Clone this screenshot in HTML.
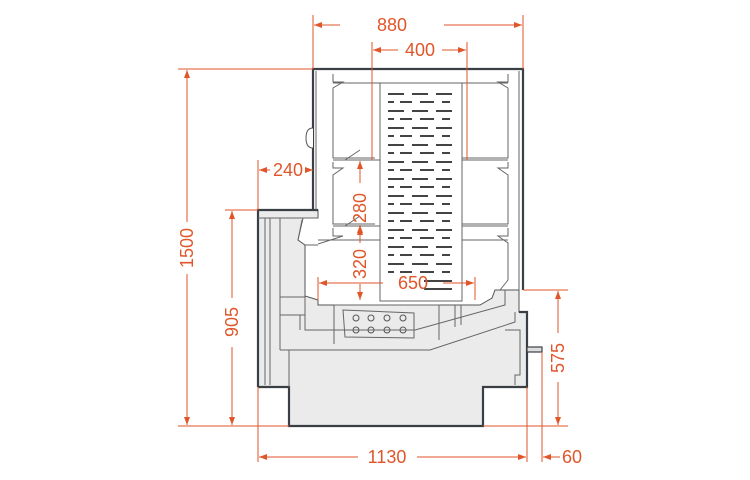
<!DOCTYPE html>
<html><head><meta charset="utf-8"><style>
html,body{margin:0;padding:0;background:#fff;}
svg{display:block;}
text{font-family:"Liberation Sans",sans-serif;font-size:18px;fill:#e0562a;}
</style></head><body>
<svg width="750" height="480" viewBox="0 0 750 480" xmlns="http://www.w3.org/2000/svg">
<defs>
<marker id="a" markerWidth="8" markerHeight="6" refX="8" refY="3" orient="auto-start-reverse" markerUnits="userSpaceOnUse"><path d="M0,0 L8,3 L0,6z" fill="#e0562a"/></marker>
</defs>
<g stroke="#555" stroke-width="1" fill="#ebebeb">
<path d="M258,210 L318,210 L318,218 L303,218 L298,240 L305,245 L305,296 L318,300 L318,305 L480,305 L492,298 L495,290 L519,290 L519,312 L527,312 L527,387 L483,387 L483,426 L289,426 L289,387 L258,387 Z"/>
</g>
<path d="M258,387 L289,387 L289,426 L483,426 L483,387 L527,387 L527,312 L519,312" fill="none" stroke="#3a3f45" stroke-width="2.2"/>
<path d="M258,387 L258,210 L318,210" fill="none" stroke="#3a3f45" stroke-width="2.2"/>
<g stroke="#666" stroke-width="1" fill="none">
<line x1="258" y1="218" x2="318" y2="218"/>
<line x1="265" y1="218" x2="265" y2="385"/>
<line x1="270" y1="218" x2="270" y2="385"/>
<line x1="280" y1="218" x2="280" y2="350"/>
<line x1="289" y1="350" x2="289" y2="387"/>
<path d="M280,350 L430,350 L515,322 L515,312"/>
<path d="M280,297 L305,297 L305,330 L415,330 L505,305 L505,290"/>
<line x1="280" y1="315" x2="305" y2="315"/>
<line x1="300" y1="315" x2="300" y2="330"/>
<path d="M334,305 L334,344 M334,305 L439,305 L439,340"/>
<path d="M343,310 L414,313 L414,338 L345,337 Z"/>
<path d="M505,330 L520,330 L520,375 L515,375 L515,385"/>
<line x1="455" y1="305" x2="455" y2="327"/>
<line x1="461" y1="305" x2="461" y2="325"/>
<path d="M298,240 L302,220"/>
<path d="M305,245 L318,245"/>
</g>
<g fill="none" stroke="#555" stroke-width="1">
<circle cx="356" cy="318" r="3"/><circle cx="371" cy="318" r="3"/><circle cx="387" cy="318" r="3"/><circle cx="403" cy="318" r="3"/>
<circle cx="356" cy="330" r="3"/><circle cx="371" cy="330" r="3"/><circle cx="387" cy="330" r="3"/><circle cx="403" cy="330" r="3"/>
</g>
<rect x="527" y="347" width="15" height="5" fill="#ddd" stroke="#3a3f45" stroke-width="1.2"/>
<path d="M313,210 L313,69 L523,69 L523,290" fill="none" stroke="#3a3f45" stroke-width="2.2"/>
<line x1="519" y1="71" x2="519" y2="290" stroke="#666"/>
<line x1="316" y1="71" x2="316" y2="210" stroke="#666"/>
<path d="M313,128 Q306,128 306,138 Q306,148 313,148" fill="#fff" stroke="#555"/>
<g stroke="#666" fill="none" stroke-width="1">
<path d="M333,74 L333,82 L343,82 L333,88 L333,158 L375,158"/>
<path d="M508,74 L508,82 L498,82 L508,88 L508,158 L462,158"/>
<line x1="333" y1="83" x2="508" y2="83"/>
<path d="M333,162 L333,168 L343,168 L333,175 L333,224 L375,224"/>
<path d="M508,162 L508,168 L498,168 L508,175 L508,224 L462,224"/>
<line x1="333" y1="160" x2="380" y2="160"/><line x1="462" y1="160" x2="508" y2="160"/>
<line x1="333" y1="226" x2="380" y2="226"/><line x1="462" y1="226" x2="508" y2="226"/>
<path d="M333,228 L333,236 L343,236 L318,244"/>
<path d="M508,228 L508,236 L498,236 L508,243 L508,280 L500,290"/>
<path d="M345,160 L360,150 M345,226 L360,216"/>
<line x1="318" y1="240" x2="380" y2="240"/>
<line x1="462" y1="240" x2="508" y2="240"/>
</g>
<rect x="380" y="83" width="82" height="218" fill="#fff" stroke="#666"/>
<g stroke="#444" stroke-width="2" fill="none">
<path d="
M388,94 h16 M412,94 h16 M436,94 h16
M388,102 h6 M400,102 h12 M420,102 h14 M442,102 h8
M388,111 h16 M412,111 h16 M436,111 h16
M388,119 h6 M400,119 h12 M420,119 h14 M442,119 h8
M388,128 h16 M412,128 h16 M436,128 h16
M388,136 h6 M400,136 h12 M420,136 h14 M442,136 h8
M388,145 h16 M412,145 h16 M436,145 h16
M388,153 h6 M400,153 h12 M420,153 h14 M442,153 h8
M388,162 h16 M412,162 h16 M436,162 h16
M388,170 h6 M400,170 h12 M420,170 h14 M442,170 h8
M388,179 h16 M412,179 h16 M436,179 h16
M388,187 h6 M400,187 h12 M420,187 h14 M442,187 h8
M388,196 h16 M412,196 h16 M436,196 h16
M388,204 h6 M400,204 h12 M420,204 h14 M442,204 h8
M388,213 h16 M412,213 h16 M436,213 h16
M388,221 h6 M400,221 h12 M420,221 h14 M442,221 h8
M388,230 h16 M412,230 h16 M436,230 h16
M388,238 h6 M400,238 h12 M420,238 h14 M442,238 h8
M388,247 h16 M412,247 h16 M436,247 h16
M388,255 h6 M400,255 h12 M420,255 h14 M442,255 h8
M388,264 h16 M412,264 h16 M436,264 h16
M388,272 h6 M400,272 h12 M420,272 h14 M442,272 h8
M424,281 h28 M424,289 h28"/>
</g>
<g stroke="#e0562a" stroke-width="1" fill="none">
<line x1="313" y1="15" x2="313" y2="69"/><line x1="523" y1="15" x2="523" y2="69"/>
<line x1="372" y1="42" x2="372" y2="160"/><line x1="467" y1="42" x2="467" y2="160"/>
<line x1="314" y1="25" x2="340" y2="25" marker-start="url(#a)"/><line x1="444" y1="25" x2="522" y2="25" marker-end="url(#a)"/>
<line x1="373" y1="50" x2="398" y2="50" marker-start="url(#a)"/><line x1="442" y1="50" x2="466" y2="50" marker-end="url(#a)"/>
<line x1="178" y1="69" x2="313" y2="69"/>
<line x1="178" y1="426" x2="289" y2="426"/>
<line x1="187" y1="70" x2="187" y2="222" marker-start="url(#a)"/><line x1="187" y1="274" x2="187" y2="425" marker-end="url(#a)"/>
<line x1="225" y1="210" x2="258" y2="210"/>
<line x1="232" y1="211" x2="232" y2="298" marker-start="url(#a)"/><line x1="232" y1="347" x2="232" y2="425" marker-end="url(#a)"/>
<line x1="258" y1="160" x2="258" y2="210"/>
<line x1="259" y1="170" x2="270" y2="170" marker-start="url(#a)"/><line x1="305" y1="170" x2="313" y2="170" marker-end="url(#a)"/>
<line x1="360" y1="161" x2="360" y2="183" marker-start="url(#a)"/><line x1="360" y1="232" x2="360" y2="225" marker-end="url(#a)"/>
<line x1="360" y1="227" x2="360" y2="243" marker-start="url(#a)"/><line x1="360" y1="284" x2="360" y2="300" marker-end="url(#a)"/>
<line x1="318" y1="277" x2="318" y2="300"/><line x1="475" y1="277" x2="475" y2="300"/>
<line x1="319" y1="283" x2="383" y2="283" marker-start="url(#a)"/><line x1="443" y1="283" x2="474" y2="283" marker-end="url(#a)"/>
<line x1="523" y1="290" x2="568" y2="290"/>
<line x1="483" y1="426" x2="568" y2="426"/>
<line x1="558" y1="291" x2="558" y2="333" marker-start="url(#a)"/><line x1="558" y1="382" x2="558" y2="425" marker-end="url(#a)"/>
<line x1="258" y1="387" x2="258" y2="462"/>
<line x1="527" y1="387" x2="527" y2="462"/>
<line x1="542" y1="352" x2="542" y2="462"/>
<line x1="259" y1="457" x2="358" y2="457" marker-start="url(#a)"/><line x1="417" y1="457" x2="526" y2="457" marker-end="url(#a)"/>
<line x1="553" y1="457" x2="543" y2="457" marker-end="url(#a)"/><line x1="553" y1="457" x2="560" y2="457"/>
</g>
<g>
<text x="392" y="31" text-anchor="middle">880</text>
<text x="420" y="56" text-anchor="middle">400</text>
<text x="288" y="176" text-anchor="middle">240</text>
<text x="413" y="289" text-anchor="middle">650</text>
<text x="387" y="463" text-anchor="middle">1130</text>
<text x="572" y="463" text-anchor="middle">60</text>
<text transform="translate(193,248) rotate(-90)" text-anchor="middle">1500</text>
<text transform="translate(238,322) rotate(-90)" text-anchor="middle">905</text>
<text transform="translate(366,208) rotate(-90)" text-anchor="middle">280</text>
<text transform="translate(366,264) rotate(-90)" text-anchor="middle">320</text>
<text transform="translate(564,358) rotate(-90)" text-anchor="middle">575</text>
</g>
</svg>
</body></html>
